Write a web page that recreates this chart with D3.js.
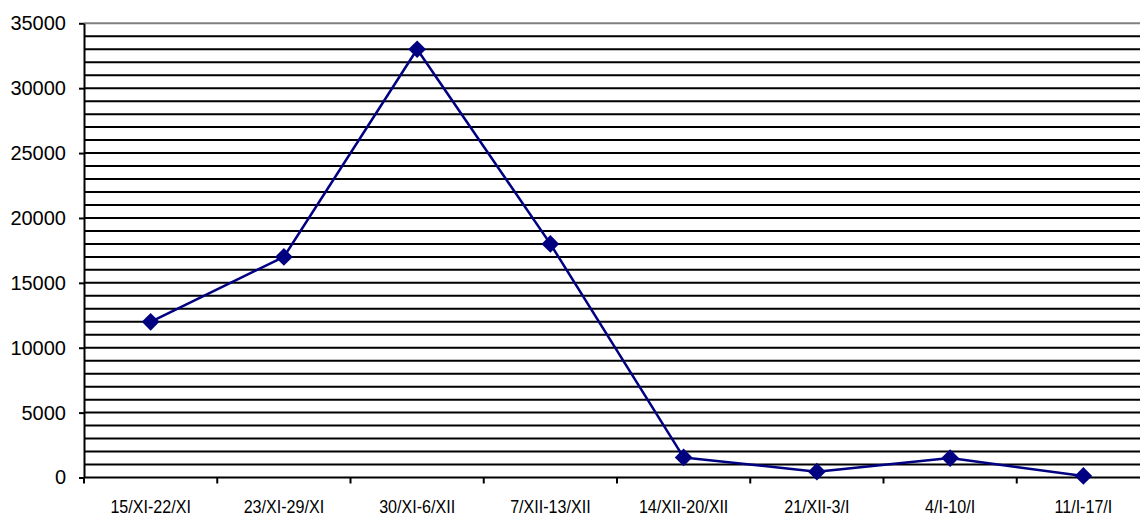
<!DOCTYPE html>
<html>
<head>
<meta charset="utf-8">
<script src="https://cdn.jsdelivr.net/npm/d3@7"></script>
<style>
  html, body { margin: 0; padding: 0; background: #fff; overflow: hidden; }
  svg { display: block; }
</style>
</head>
<body>
<svg id="chart" width="1140" height="517"></svg>
<script>
// Weekly periods and their counts
const categories = ["15/XI-22/XI", "23/XI-29/XI", "30/XI-6/XII", "7/XII-13/XII",
                    "14/XII-20/XII", "21/XII-3/I", "4/I-10/I", "11/I-17/I"];
const values = [12000, 17000, 33000, 18000, 1550, 450, 1500, 120];
const yTicks = [0, 5000, 10000, 15000, 20000, 25000, 30000, 35000];
const gridStep = 1000;
const yMax = 35000;

const svg = d3.select("#chart");
const plotLeft = 84, plotTop = 23.3, plotBottom = 477.5, plotRight = 1150;

const x = d3.scaleBand().domain(categories).range([plotLeft, plotRight]).padding(0);
const y = d3.scaleLinear().domain([0, yMax]).range([plotBottom, plotTop]);

// Horizontal gridlines every 1000
const gridVals = d3.range(gridStep, yMax, gridStep);
svg.append("g")
  .selectAll("line")
  .data(gridVals)
  .join("line")
  .attr("x1", plotLeft).attr("x2", plotRight)
  .attr("y1", d => y(d)).attr("y2", d => y(d))
  .attr("stroke", "#000").attr("stroke-width", 2);

// Top border of the plot area
svg.append("line")
  .attr("x1", plotLeft).attr("x2", plotRight)
  .attr("y1", y(yMax)).attr("y2", y(yMax))
  .attr("stroke", "#808080").attr("stroke-width", 2);

// Y axis
const yAxis = svg.append("g")
  .attr("transform", `translate(${plotLeft},0)`)
  .call(d3.axisLeft(y).tickValues(yTicks).tickFormat(d3.format("d"))
    .tickSize(5).tickSizeOuter(0).tickPadding(13));
yAxis.select(".domain").attr("stroke", "#000").attr("stroke-width", 2);
yAxis.selectAll(".tick line").attr("stroke", "#000").attr("stroke-width", 2);
yAxis.selectAll(".tick text")
  .attr("fill", "#000")
  .style("font-family", "'Liberation Sans', Arial, sans-serif")
  .style("font-size", "20px");

// X axis with ticks between categories
const xAxisG = svg.append("g").attr("transform", `translate(0,${plotBottom})`);
xAxisG.append("line")
  .attr("x1", plotLeft).attr("x2", plotRight)
  .attr("stroke", "#000").attr("stroke-width", 2);
const boundaries = categories.map(c => x(c)).concat([x(categories[categories.length - 1]) + x.bandwidth()]);
xAxisG.selectAll("line.tick")
  .data(boundaries)
  .join("line")
  .attr("class", "tick")
  .attr("x1", d => d).attr("x2", d => d)
  .attr("y1", 0).attr("y2", 6)
  .attr("stroke", "#000").attr("stroke-width", 2);
xAxisG.selectAll("text")
  .data(categories)
  .join("text")
  .attr("transform", d => `translate(${x(d) + x.bandwidth() / 2},35.3) scale(0.87,1)`)
  .attr("text-anchor", "middle")
  .attr("fill", "#000")
  .style("font-family", "'Liberation Sans', Arial, sans-serif")
  .style("font-size", "18.5px")
  .text(d => d);

// Series line
const cx = d => x(d) + x.bandwidth() / 2;
const pts = categories.map((c, i) => [cx(c), y(values[i])]);
svg.append("path")
  .attr("d", d3.line()(pts))
  .attr("fill", "none")
  .attr("stroke", "#000080")
  .attr("stroke-width", 2.5)
  .attr("stroke-linejoin", "round");

// Diamond markers
svg.append("g")
  .selectAll("path")
  .data(pts)
  .join("path")
  .attr("transform", d => `translate(${d[0]},${d[1]})`)
  .attr("d", d3.symbol().type(d3.symbolDiamond2).size(200))
  .attr("fill", "#000080");
</script>
</body>
</html>
